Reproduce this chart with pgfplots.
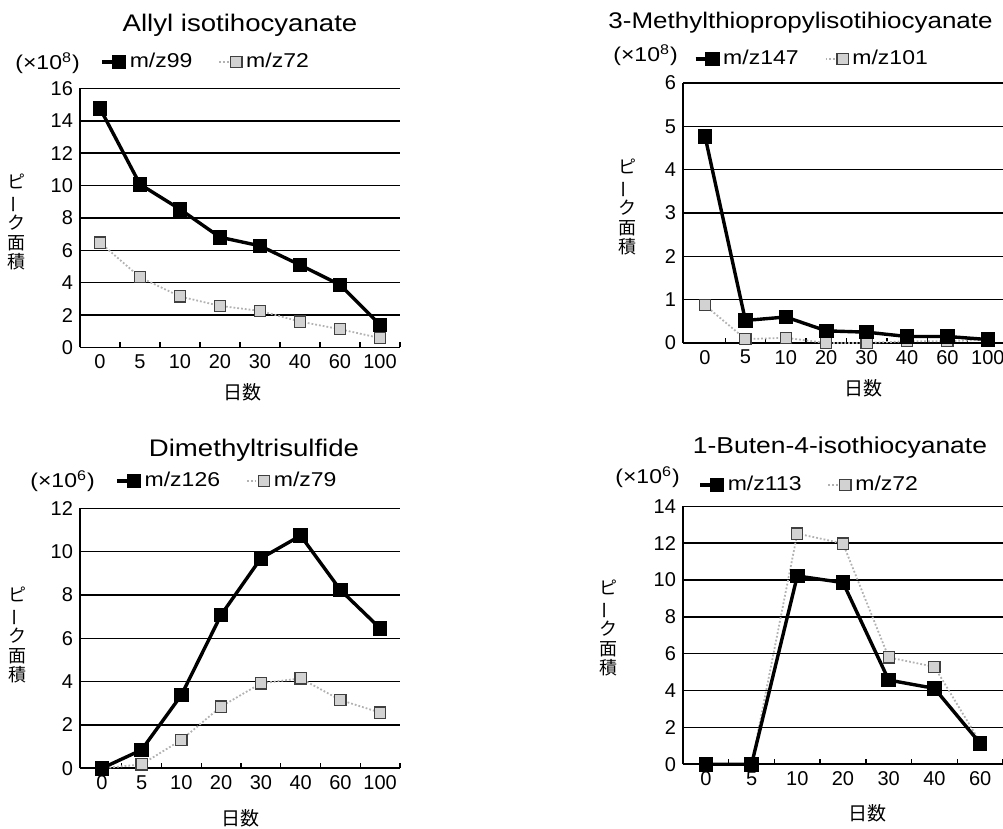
\documentclass[border=0pt]{standalone}
\usepackage{pgfplots}
\pgfplotsset{compat=1.18}
\usepackage{fontspec}
\setmainfont{Liberation Sans}
\newfontfamily\widefont{Liberation Sans}[FakeStretch=1.15]
\newfontfamily\cjk{Noto Sans CJK JP}

\pgfplotsset{
  panel/.style={
    scale only axis, width=160pt, height=130pt, anchor=south west,
    axis x line*=bottom, axis y line*=left,
    xtick={0,...,7},
    major x tick style={draw=none},
    minor xtick={0.5,1.5,...,7.5},
    minor tick length=2.6pt, tick align=inside,
    minor x tick style={black, line width=0.7pt},
    ymajorgrids, grid style={black, line width=0.75pt},
    major y tick style={draw=none},
    axis line style={black, line width=0.8pt},
    tick label style={font=\fontsize{10}{11}\selectfont},
    /pgf/number format/assume math mode=true,
    clip=false,
    legend columns=2, reverse legend,
    legend style={draw=none, fill=none, anchor=west, inner sep=0pt,
      font=\widefont\fontsize{10}{11}\selectfont,
      /tikz/every even column/.append style={column sep=11pt}},
    legend image code/.code={\draw[mark repeat=5, mark phase=2, ##1] plot coordinates {(0pt,0pt) (8.5pt,0pt) (11pt,0pt)};},
  },
  blk/.style={black, line width=1.7pt, mark=square*, mark size=2.8pt, mark options={solid, fill=black, draw=black}},
  gry/.style={gray!60, line width=0.9pt, densely dotted, mark=square*, mark size=2.8pt, mark options={solid, fill=gray!35, draw=black!75, line width=0.6pt}},
}

\newcommand{\ylab}{ピ\\\rotatebox[origin=c]{90}{ー}\\ク\\面\\積}

\begin{document}
\begin{tikzpicture}
\useasboundingbox (0,0) rectangle (501.5pt,414.5pt);
\clip (0,0) rectangle (501.5pt,414.5pt);

% Panel 1
\begin{axis}[panel, at={(40pt,240.75pt)}, height=129.5pt,
  xmin=-0.5, xmax=7.5, ymin=0, ymax=16, ytick={0,2,...,16},
  xticklabels={0,5,10,20,30,40,60,100},
  legend style={at={(0.0625,1.102)}}]
\addplot[gry] coordinates {(0,6.48) (1,4.34) (2,3.15) (3,2.57) (4,2.26) (5,1.60) (6,1.13) (7,0.58)};
\addlegendentry{m/z72}
\addplot[blk] coordinates {(0,14.77) (1,10.08) (2,8.54) (3,6.81) (4,6.28) (5,5.10) (6,3.87) (7,1.40)};
\addlegendentry{m/z99}
\end{axis}

% Panel 2
\begin{axis}[panel, at={(341.5pt,243pt)}, width=162.5pt, height=130pt,
  xmin=-0.545, xmax=7.5, ymin=0, ymax=6, ytick={0,1,...,6},
  xticklabels={0,5,10,20,30,40,60,100},
  legend style={at={(0.032,1.092)}}]
\addplot[gry] coordinates {(0,0.87) (1,0.09) (2,0.12) (3,0.0) (4,0.0) (5,0.04) (6,0.04) (7,0.08)};
\addlegendentry{m/z101}
\addplot[blk] coordinates {(0,4.77) (1,0.52) (2,0.60) (3,0.28) (4,0.25) (5,0.15) (6,0.15) (7,0.08)};
\addlegendentry{m/z147}
\end{axis}

% Panel 3
\begin{axis}[panel, at={(40pt,30.35pt)}, height=130pt,
  xmin=-0.55, xmax=7.5, ymin=0, ymax=12, ytick={0,2,...,12},
  xticklabels={0,5,10,20,30,40,60,100},
  legend style={at={(0.109,1.105)}}]
\addplot[gry] coordinates {(0,0) (1,0.18) (2,1.31) (3,2.85) (4,3.92) (5,4.15) (6,3.15) (7,2.57)};
\addlegendentry{m/z79}
\addplot[blk] coordinates {(0,0) (1,0.85) (2,3.38) (3,7.08) (4,9.69) (5,10.74) (6,8.23) (7,6.46)};
\addlegendentry{m/z126}
\end{axis}

% Panel 4
\begin{axis}[panel, at={(341.5pt,32.35pt)}, height=129pt,
  xmin=-0.5, xmax=6.5, ymin=0, ymax=14, ytick={0,2,...,14},
  minor xtick={0.5,1.5,...,6.5},
  xticklabels={0,5,10,20,30,40,60},
  legend style={at={(0.047,1.083)}}]
\addplot[gry] coordinates {(0,0) (1,0) (2,12.52) (3,11.98) (4,5.80) (5,5.29) (6,1.2)};
\addlegendentry{m/z72}
\addplot[blk] coordinates {(0,0) (1,0) (2,10.22) (3,9.86) (4,4.57) (5,4.12) (6,1.14)};
\addlegendentry{m/z113}
\end{axis}

% Titles
\node[anchor=base, font=\widefont\fontsize{12}{13}\selectfont] at (120pt,398.6pt) {Allyl isotihocyanate};
\node[anchor=base west, inner sep=0pt, font=\widefont\fontsize{11.3}{12}\selectfont] at (304pt,400.3pt) {3-Methylthiopropylisotihiocyanate};
\node[anchor=base, font=\widefont\fontsize{12}{13}\selectfont] at (127pt,186.2pt) {Dimethyltrisulfide};
\node[anchor=base, font=\widefont\fontsize{11.5}{12}\selectfont] at (420pt,187.8pt) {1-Buten-4-isothiocyanate};

% Scale labels
\node[anchor=west, inner sep=0pt, font=\widefont\fontsize{10}{11}\selectfont] at (7.5pt,383pt) {(×10\textsuperscript{8})};
\node[anchor=west, inner sep=0pt, font=\widefont\fontsize{10}{11}\selectfont] at (306.5pt,387pt) {(×10\textsuperscript{8})};
\node[anchor=west, inner sep=0pt, font=\widefont\fontsize{10}{11}\selectfont] at (15pt,174pt) {(×10\textsuperscript{6})};
\node[anchor=west, inner sep=0pt, font=\widefont\fontsize{10}{11}\selectfont] at (307.5pt,176pt) {(×10\textsuperscript{6})};

% Y labels
\node[align=center, inner sep=0pt, font=\cjk\fontsize{9}{9.7}\selectfont] at (8.5pt,303.5pt) {\ylab};
\node[align=center, inner sep=0pt, font=\cjk\fontsize{9}{9.7}\selectfont] at (313.5pt,311pt) {\ylab};
\node[align=center, inner sep=0pt, font=\cjk\fontsize{9}{9.7}\selectfont] at (9pt,97pt) {\ylab};
\node[align=center, inner sep=0pt, font=\cjk\fontsize{9}{9.7}\selectfont] at (304pt,100.5pt) {\ylab};

% X labels
\node[font=\cjk\fontsize{9.5}{10}\selectfont] at (121pt,218.5pt) {日数};
\node[font=\cjk\fontsize{9.5}{10}\selectfont] at (431.5pt,220.5pt) {日数};
\node[font=\cjk\fontsize{9.5}{10}\selectfont] at (120pt,5.5pt) {日数};
\node[font=\cjk\fontsize{9.5}{10}\selectfont] at (433.5pt,8pt) {日数};
\end{tikzpicture}
\end{document}
